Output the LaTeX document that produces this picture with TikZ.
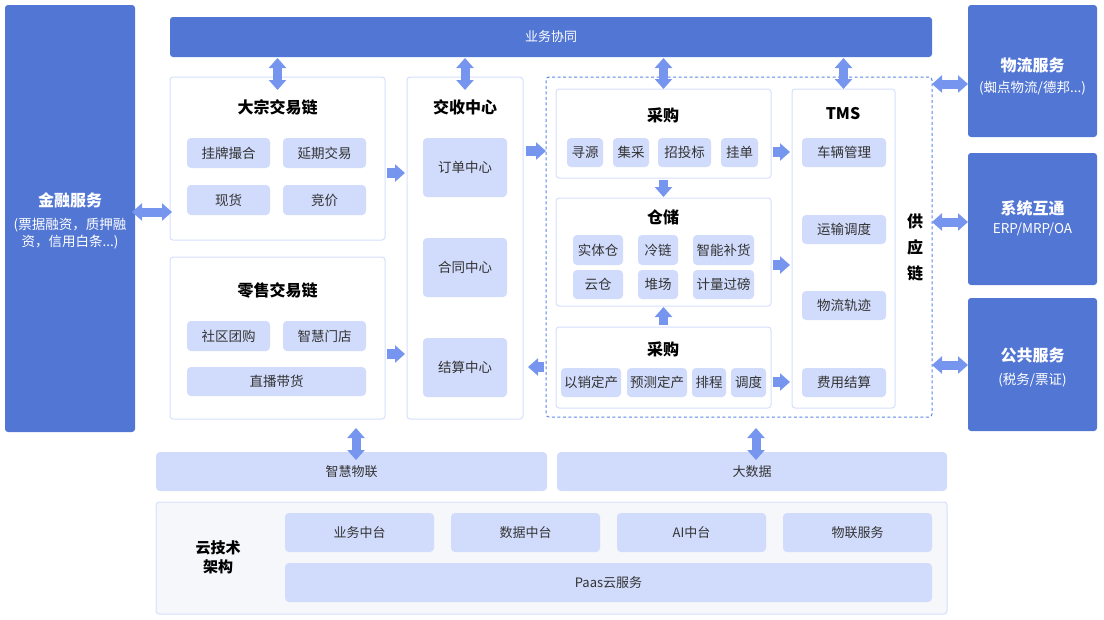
\documentclass[tikz,border=0pt]{standalone}
\usepackage{fontspec}
\setmainfont{Noto Sans CJK SC}
\usetikzlibrary{arrows.meta,calc}
\definecolor{dkb}{HTML}{5276D4}
\definecolor{itf}{HTML}{D1DCFC}
\definecolor{bdr}{HTML}{D6E0FC}
\definecolor{arw}{HTML}{7595EE}
\definecolor{dsh}{HTML}{5A85E6}
\definecolor{txt}{HTML}{333333}
\definecolor{cbg}{HTML}{F6F7FB}
\newcommand\bx[7]{\node[#1,anchor=north west,minimum width=#5pt,minimum height=#6pt] (#2) at (#3,#4) {#7};}
\newcommand\tfont{\bfseries\fontsize{16}{19}\selectfont}
\newcommand\sfont{\mdseries\fontsize{13.5}{17}\selectfont}
\begin{document}
\begin{tikzpicture}[x=1pt,y=-1pt,
  darkbox/.style={fill=dkb,draw=none,rounded corners=3pt,text=white,inner sep=0pt,outer sep=0pt,align=center},
  wbox/.style={fill=white,draw=bdr,line width=1pt,rounded corners=3pt,inner sep=0pt,outer sep=0pt},
  itm/.style={fill=itf,draw=none,rounded corners=4pt,inner sep=0pt,outer sep=0pt,text=txt,font=\fontsize{13.5}{16}\selectfont,align=center},
  ttl/.style={font=\bfseries\fontsize{16}{19}\selectfont,text=black,inner sep=0pt},
  wt/.style={text=white,inner sep=0pt,font=\tfont},
  ws/.style={text=white,inner sep=0pt,font=\sfont,align=center},
  bi/.style={draw=arw,line width=9pt,{Triangle[length=10pt,width=17pt]}-{Triangle[length=10pt,width=17pt]}},
  one/.style={draw=arw,line width=9.5pt,-{Triangle[length=10pt,width=17pt]}},
  dbox/.style={draw=dsh,line width=1pt,dash pattern=on 3pt off 2.5pt,rounded corners=3pt,inner sep=0pt,outer sep=0pt,fill=none}
]
\useasboundingbox (0,0) rectangle (1104,619);

% left finance
\bx{darkbox}{fin}{5}{5}{130}{427}{}
\node[wt] (fint) at (70,200) {金融服务};
\node[ws,font=\fontsize{13.5}{17}\selectfont] (fins) at (70,234) {(票据融资，质押融\\资，信用白条...)};
% top bar
\bx{darkbox,font=\fontsize{13}{16}\selectfont}{ywxt}{170}{17}{762}{40}{业务协同}

% 大宗交易链
\bx{wbox}{dz}{170}{77}{215}{163}{}
\node[ttl] (dzt) at (277.5,107) {大宗交易链};
\bx{itm}{d1}{187}{138}{83}{30}{挂牌撮合}
\bx{itm}{d2}{283}{138}{83}{30}{延期交易}
\bx{itm}{d3}{187}{185}{83}{30}{现货}
\bx{itm}{d4}{283}{185}{83}{30}{竞价}

% 零售交易链
\bx{wbox}{ls}{170}{257}{215}{162}{}
\node[ttl] (lst) at (277.5,290) {零售交易链};
\bx{itm}{l1}{187}{321}{83}{30}{社区团购}
\bx{itm}{l2}{283}{321}{83}{30}{智慧门店}
\bx{itm}{l3}{187}{367}{179}{29}{直播带货}

% 交收中心
\bx{wbox}{js}{407}{77}{116}{342}{}
\node[ttl] (jst) at (465,107) {交收中心};
\bx{itm}{j1}{423}{138}{84}{59}{订单中心}
\bx{itm}{j2}{423}{238}{84}{59}{合同中心}
\bx{itm}{j3}{423}{338}{84}{59}{结算中心}

% supply chain dashed
\bx{dbox}{sc}{546}{77}{386}{340}{}

% 采购 top
\bx{wbox}{cg1}{556}{89}{215}{89}{}
\node[ttl] (cg1t) at (663,115) {采购};
\bx{itm}{c1}{567}{138}{36}{29}{寻源}
\bx{itm}{c2}{613}{138}{36}{29}{集采}
\bx{itm}{c3}{658}{138}{53}{29}{招投标}
\bx{itm}{c4}{721}{138}{37}{29}{挂单}

% 仓储
\bx{wbox}{cc}{556}{198}{215}{108}{}
\node[ttl] (cct) at (663,217) {仓储};
\bx{itm}{w1}{573}{235}{50}{30}{实体仓}
\bx{itm}{w2}{638}{235}{40}{30}{冷链}
\bx{itm}{w3}{693}{235}{61}{30}{智能补货}
\bx{itm}{w4}{573}{270}{50}{29}{云仓}
\bx{itm}{w5}{638}{270}{40}{29}{堆场}
\bx{itm}{w6}{693}{270}{61}{29}{计量过磅}

% 采购 bottom
\bx{wbox}{cg2}{556}{327}{215}{81}{}
\node[ttl] (cg2t) at (663,349) {采购};
\bx{itm}{p1}{561}{368}{60}{29}{以销定产}
\bx{itm}{p2}{627}{368}{60}{29}{预测定产}
\bx{itm}{p3}{692}{368}{34}{29}{排程}
\bx{itm}{p4}{731}{368}{35}{29}{调度}

% TMS
\bx{wbox}{tms}{792}{89}{103}{319}{}
\node[ttl] (tmst) at (843,114) {TMS};
\bx{itm}{t1}{802}{138}{84}{29}{车辆管理}
\bx{itm}{t2}{802}{215}{84}{29}{运输调度}
\bx{itm}{t3}{802}{291}{84}{29}{物流轨迹}
\bx{itm}{t4}{802}{368}{84}{29}{费用结算}
\node[ttl,align=center,font=\bfseries\fontsize{16}{26}\selectfont] (gyl) at (915,247) {供\\应\\链};

% right services
\bx{darkbox}{wl}{968}{5}{129}{132}{}
\node[wt] (wlt) at (1032.5,65) {物流服务};
\node[ws] (wls) at (1032.5,88) {(蜘点物流/德邦...)};
\bx{darkbox}{xt}{968}{153}{129}{132}{}
\node[wt] (xtt) at (1032.5,208) {系统互通};
\node[ws] (xts) at (1032.5,229) {ERP/MRP/OA};
\bx{darkbox}{gg}{968}{298}{129}{133}{}
\node[wt] (ggt) at (1032.5,355) {公共服务};
\node[ws] (ggs) at (1032.5,380) {(税务/票证)};

% bottom bars
\bx{itm,font=\fontsize{13}{16}\selectfont}{zhwl}{156}{452}{391}{39}{智慧物联}
\bx{itm,font=\fontsize{13}{16}\selectfont}{dsj}{557}{452}{390}{39}{大数据}

% cloud
\bx{wbox,fill=cbg,draw=bdr}{cloud}{156}{502}{791}{112}{}
\node[ttl,align=center,font=\bfseries\fontsize{15}{19}\selectfont] (cloudt) at (218,557) {云技术\\架构};
\bx{itm,font=\fontsize{13}{16}\selectfont}{k1}{285}{513}{149}{39}{业务中台}
\bx{itm,font=\fontsize{13}{16}\selectfont}{k2}{451}{513}{149}{39}{数据中台}
\bx{itm,font=\fontsize{13}{16}\selectfont}{k3}{617}{513}{149}{39}{AI中台}
\bx{itm,font=\fontsize{13}{16}\selectfont}{k4}{783}{513}{149}{39}{物联服务}
\bx{itm,font=\fontsize{13}{16}\selectfont}{k5}{285}{563}{647}{39}{Paas云服务}

% helper rows/columns
\coordinate (rfin) at (0,212);
\coordinate (rdz) at (0,173);
\coordinate (rls) at (0,354);
\coordinate (rjs) at (0,151);
\coordinate (rjs2) at (0,367);
\coordinate (rc1) at (0,152);
\coordinate (rc2) at (0,265);
\coordinate (rc3) at (0,382);
\coordinate (rwl) at (0,84);
\coordinate (rxt) at (0,222);
\coordinate (rgg) at (0,365);
\coordinate (cls) at (356,0);
\coordinate (cds) at (756,0);

% connectors
\draw[bi,shorten <=1pt,shorten >=-13pt] (ywxt.south -| dz.north) -- (dz.north);
\draw[bi,shorten <=1pt,shorten >=-13pt] (ywxt.south -| js.north) -- (js.north);
\draw[bi,shorten <=1pt] (ywxt.south -| cg1.north) -- (cg1.north);
\draw[bi,shorten <=1pt] (ywxt.south -| tms.north) -- (tms.north);
\draw[bi,shorten <=-3pt,shorten >=-2pt] (fin.east |- rfin) -- (dz.west |- rfin);
\draw[one,shorten <=2pt,shorten >=2pt] (dz.east |- rdz) -- (js.west |- rdz);
\draw[one,shorten <=2pt,shorten >=2pt] (ls.east |- rls) -- (js.west |- rls);
\draw[one,shorten <=3pt] (js.east |- rjs) -- (sc.west |- rjs);
\draw[one,shorten <=2pt,shorten >=5pt] (sc.west |- rjs2) -- (js.east |- rjs2);
\draw[one,shorten <=2pt,shorten >=2pt] (cg1.east |- rc1) -- (tms.west |- rc1);
\draw[one,shorten <=2pt,shorten >=1pt] (cg1.south) -- (cc.north);
\draw[one,shorten <=2pt,shorten >=2pt] (cc.east |- rc2) -- (tms.west |- rc2);
\draw[one,shorten <=2pt,shorten >=1pt] (cg2.north) -- (cc.south);
\draw[one,shorten <=2pt,shorten >=2pt] (cg2.east |- rc3) -- (tms.west |- rc3);
\draw[bi] (sc.east |- rwl) -- (wl.west |- rwl);
\draw[bi] (sc.east |- rxt) -- (xt.west |- rxt);
\draw[bi] (sc.east |- rgg) -- (gg.west |- rgg);
\draw[bi,shorten <=9pt,shorten >=-8pt] (ls.south -| cls) -- (zhwl.north -| cls);
\draw[bi,shorten <=11pt,shorten >=-8pt] (sc.south -| cds) -- (dsj.north -| cds);
\end{tikzpicture}
\end{document}
